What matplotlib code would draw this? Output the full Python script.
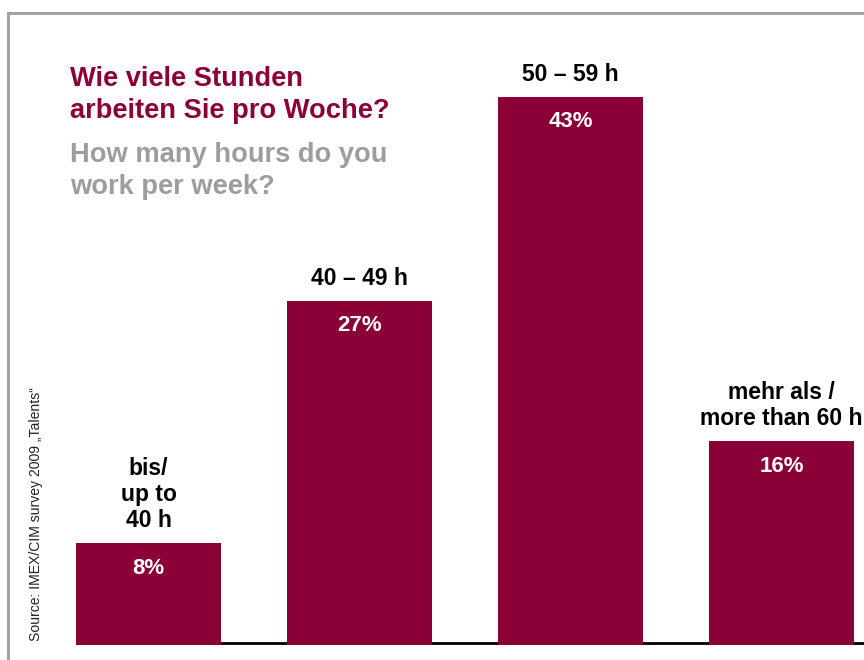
import matplotlib
matplotlib.use("Agg")
import matplotlib.pyplot as plt
from matplotlib.patches import Rectangle

categories = ["bis/\nup to\n40 h", "40 – 49 h", "50 – 59 h", "mehr als /\nmore than 60 h"]
values = [8, 27, 43, 16]
value_labels = ["8%", "27%", "43%", "16%"]
title_de = "Wie viele Stunden\narbeiten Sie pro Woche?"
title_en = "How many hours do you\nwork per week?"
source = "Source: IMEX/CIM survey 2009 „Talents“"

CRIMSON = "#8C0038"
GRAY = "#9d9d9d"
W, H = 864, 660
fig = plt.figure(figsize=(W / 100, H / 100), dpi=100)
plt.rcParams['font.family'] = ['Liberation Sans', 'DejaVu Sans']

# frame
fig.patches.append(Rectangle((8 / W, -0.1), 1.2, (H - 13) / H + 0.1, transform=fig.transFigure,
                             fill=False, edgecolor="#a3a3a3", lw=2.2, zorder=0))

ax = fig.add_axes([0, 15 / H, 1, 645 / H])
ax.set_axis_off()
spacing = 211.0
ax.set_xlim(-148.5 / spacing, (W - 148.5) / spacing)
ax.set_ylim(0, 645 / 12.75)
width = 145 / spacing
x = list(range(len(values)))
bars = ax.bar(x, values, width=width, color=CRIMSON, zorder=3)
ax.hlines(0.15, -width / 2, 10, color="black", lw=2, zorder=2)

for xi, v, cat, vl in zip(x, values, categories, value_labels):
    ax.annotate(cat, (xi, v), xytext=(0, 8), textcoords="offset points",
                ha="center", va="bottom", fontsize=16.5, fontweight="bold",
                color="black", linespacing=1.15, zorder=4)
    ax.annotate(vl, (xi, v), xytext=(0, -18), textcoords="offset points",
                ha="center", va="center", fontsize=16, fontweight="bold",
                color="white", zorder=4)

fig.text(70 / W, 1 - 66 / H, title_de, ha="left", va="top", fontsize=19.6,
         fontweight="bold", color=CRIMSON, linespacing=1.32)
fig.text(70 / W, 1 - 142 / H, title_en, ha="left", va="top", fontsize=19.6,
         fontweight="bold", color=GRAY, linespacing=1.32)
fig.text(36 / W, 1 - 641 / H, source, rotation=90, ha="center", va="bottom",
         fontsize=10.1, color="#222222")

fig.savefig("out.png", dpi=100)
